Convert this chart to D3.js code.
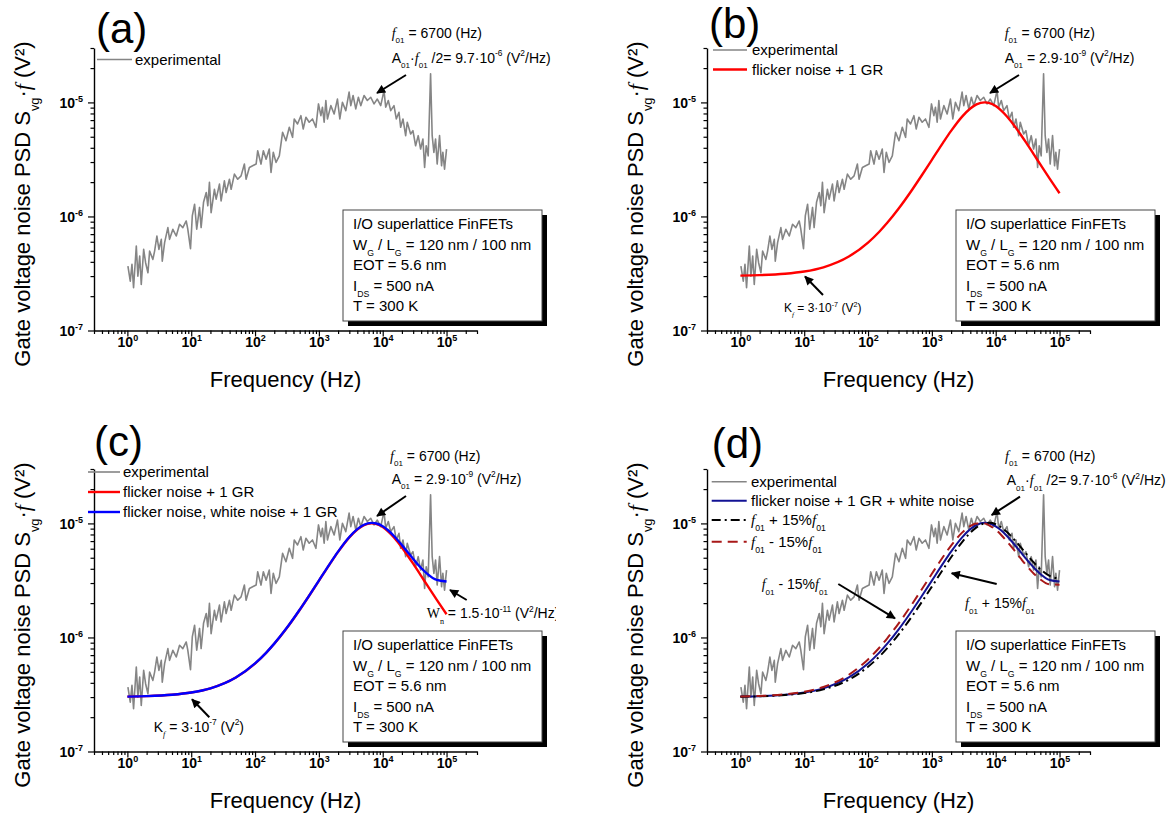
<!DOCTYPE html>
<html><head><meta charset="utf-8">
<script src="https://cdn.jsdelivr.net/npm/d3@7"></script>
<style>
body{margin:0;background:#fff;}
svg text{font-family:Arial,"Liberation Sans",sans-serif;fill:#000;}
</style></head><body>
<svg id="fig" width="1169" height="819"></svg>
<script>
// Measured gate voltage noise spectrum, S_vg·f (V²) versus frequency (Hz)
const expFreq = [1.02,1.11,1.18,1.25,1.38,1.46,1.56,1.65,1.80,1.93,2.10,2.23,2.51,2.67,2.90,3.12,3.40,3.52,3.83,4.31,4.58,5.16,5.83,6.57,7.39,8.35,8.85,9.75,10.4,11.3,12.2,13.5,14.3,15.6,17.2,18.2,19.3,20.5,23.1,24.6,27.7,29.4,33.1,35.2,39.7,42.2,47.5,53.5,60.4,68.1,72.3,81.5,91.7,104,110,124,135,149,167,178,193,213,240,270,305,344,387,411,463,523,568,627,705,794,898,986,1075,1138,1210,1286,1362,1540,1734,1953,2129,2338,2642,2975,3162,3435,3785,4157,4532,5104,5746,6494,7313,8234,9307,10480,11140,12230,13340,15020,16320,17980,19110,20760,22880,24230,27380,29740,32780,36000,39250,42640,45330,48000,51590,56230,59570,63340,67320,71320,77710,83550,87560,93070,100000];
const expPSD = [3.67e-7,2.71e-7,3.80e-7,2.37e-7,5.50e-7,3.00e-7,4.49e-7,2.53e-7,5.14e-7,3.93e-7,3.21e-7,4.97e-7,4.20e-7,4.97e-7,6.74e-7,5.14e-7,6.30e-7,4.06e-7,5.89e-7,7.99e-7,6.30e-7,7.72e-7,6.74e-7,8.54e-7,7.99e-7,9.13e-7,7.72e-7,5.22e-7,1.01e-6,1.28e-6,7.72e-7,1.20e-6,7.99e-7,1.33e-6,1.62e-6,1.24e-6,1.99e-6,1.08e-6,1.73e-6,1.42e-6,1.92e-6,1.37e-6,2.05e-6,1.62e-6,2.12e-6,1.73e-6,2.35e-6,2.12e-6,2.27e-6,2.88e-6,2.12e-6,2.69e-6,2.78e-6,2.88e-6,3.77e-6,2.88e-6,3.77e-6,3.18e-6,3.90e-6,2.43e-6,3.65e-6,2.98e-6,3.40e-6,5.47e-6,4.61e-6,6.05e-6,4.94e-6,7.16e-6,6.47e-6,7.65e-6,5.85e-6,7.41e-6,6.70e-6,7.16e-6,6.05e-6,9.70e-6,7.65e-6,9.07e-6,6.70e-6,1.04e-5,7.16e-6,9.37e-6,7.92e-6,1.07e-5,7.16e-6,1.00e-5,8.47e-6,1.23e-5,9.37e-6,1.15e-5,8.77e-6,1.11e-5,9.37e-6,1.15e-5,1.04e-5,1.11e-5,9.70e-6,1.07e-5,9.37e-6,1.27e-5,9.07e-6,1.04e-5,8.47e-6,9.37e-6,7.16e-6,8.20e-6,6.05e-6,7.16e-6,5.11e-6,6.70e-6,5.28e-6,5.65e-6,4.17e-6,5.11e-6,3.90e-6,4.78e-6,2.69e-6,4.17e-6,3.40e-6,1.78e-5,5.11e-6,3.65e-6,4.78e-6,2.88e-6,5.11e-6,2.78e-6,3.65e-6,2.60e-6,3.90e-6];

// Fitted model curves sampled at these frequencies (Hz)
const modelFreq = [1,2,5,10,20,50,100,150,200,300,500,700,1000,1500,2000,3000,4000,5000,6700,8000,10000,12000,15000,20000,25000,30000,40000,50000,70000,100000];
// flicker noise + 1 GR (Kf = 3e-7, A01 = 2.9e-9, f01 = 6700 Hz)
const fitFlickerGR = [3.029e-7,3.058e-7,3.145e-7,3.29e-7,3.58e-7,4.45e-7,5.899e-7,7.348e-7,8.795e-7,1.168e-6,1.742e-6,2.308e-6,3.137e-6,4.442e-6,5.625e-6,7.547e-6,8.852e-6,9.613e-6,1.0015e-5,9.865e-6,9.285e-6,8.570e-6,7.535e-6,6.152e-6,5.158e-6,4.433e-6,3.466e-6,2.858e-6,2.143e-6,1.596e-6];
// flicker noise + 1 GR + white noise (Wn = 1.5e-11)
const fitFlickerGRWhite = [3.029e-7,3.058e-7,3.145e-7,3.29e-7,3.58e-7,4.457e-7,5.914e-7,7.37e-7,8.825e-7,1.1725e-6,1.7495e-6,2.3185e-6,3.152e-6,4.4645e-6,5.655e-6,7.592e-6,8.912e-6,9.688e-6,1.0116e-5,9.985e-6,9.435e-6,8.75e-6,7.76e-6,6.452e-6,5.533e-6,4.883e-6,4.066e-6,3.608e-6,3.193e-6,3.096e-6];
// same model with f01 shifted by +15% and -15%
const fitPlus15 = [3.025e-7,3.050e-7,3.126e-7,3.252e-7,3.504e-7,4.26e-7,5.533e-7,6.798e-7,8.063e-7,1.0588e-6,1.5612e-6,2.0587e-6,2.7913e-6,3.9616e-6,5.0481e-6,6.9046e-6,8.294e-6,9.2344e-6,1.0007e-5,1.0114e-5,9.830e-6,9.301e-6,8.4105e-6,7.1088e-6,6.1361e-6,5.4248e-6,4.5037e-6,3.9706e-6,3.4601e-6,3.2862e-6];
const fitMinus15 = [3.034e-7,3.068e-7,3.170e-7,3.341e-7,3.681e-7,4.710e-7,6.42e-7,8.128e-7,9.834e-7,1.3235e-6,1.9975e-6,2.6592e-6,3.6191e-6,5.1001e-6,6.3941e-6,8.3434e-6,9.4833e-6,9.9921e-6,9.9723e-6,9.5843e-6,8.7913e-6,7.9933e-6,6.9616e-6,5.7091e-6,4.8757e-6,4.3041e-6,3.6067e-6,3.231e-6,2.9177e-6,2.9011e-6];

// Axis ticks and ranges
const xMajorTicks = [1,10,100,1000,10000,100000];
const yMajorTicks = [1e-7,1e-6,1e-5];
const xDomain = [0.3,3e5];
const yDomain = [1e-7,3e-5];

const infoLines = [
  ["I/O superlattice FinFETs"],
  ["W",["G","sub"]," / L",["G","sub"]," = 120 nm / 100 nm"],
  ["EOT = 5.6 nm"],
  ["I",["DS","sub"]," = 500 nA"],
  ["T = 300 K"]
];

const svg = d3.select("#fig");
const SERIF = "'Liberation Serif','Times New Roman',serif";
const frame = {left:94, right:477, top:48, bottom:330.5};
const x = d3.scaleLog().domain(xDomain).range([frame.left, frame.right]);
const y = d3.scaleLog().domain(yDomain).range([frame.bottom, frame.top]);

const defs = svg.append("defs");
defs.append("marker").attr("id","arrowHead").attr("viewBox","0 0 10 10")
  .attr("refX",9).attr("refY",5).attr("markerWidth",5.5).attr("markerHeight",4.5)
  .attr("orient","auto").attr("markerUnits","strokeWidth")
  .append("path").attr("d","M0,0L10,5L0,10z").attr("fill","#000");
defs.append("clipPath").attr("id","clipC").append("rect")
  .attr("x",-10).attr("y",-10).attr("width",566).attr("height",420);

// Text with sub/superscripts and italic serif parts (relative shifts keep one text chunk)
function rich(g, x0, y0, parts, size, opts = {}) {
  const t = g.append("text").attr("x", x0).attr("y", y0).attr("font-size", size);
  if (opts.anchor) t.attr("text-anchor", opts.anchor);
  if (opts.family) t.attr("font-family", opts.family);
  if (opts.transform) t.attr("transform", opts.transform);
  let cur = 0;
  parts.forEach(p => {
    const str = typeof p === "string" ? p : p[0];
    const kinds = typeof p === "string" ? [] : p[1].split(" ");
    const s = t.append("tspan").text(str);
    let target = 0, fs = size;
    if (kinds.includes("sub")) { target = size * 0.4; fs = size * 0.58; }
    if (kinds.includes("sup")) { target = -size * 0.45; fs = size * 0.6; }
    s.attr("dy", target - cur).attr("font-size", fs);
    cur = target;
    if (kinds.includes("it")) s.attr("font-style","italic").attr("font-family", SERIF);
    if (kinds.includes("serif")) s.attr("font-family", SERIF);
  });
  return t;
}

function arrow(g, x1, y1, x2, y2) {
  g.append("line").attr("x1",x1).attr("y1",y1).attr("x2",x2).attr("y2",y2)
    .attr("stroke","#000").attr("stroke-width",2).attr("marker-end","url(#arrowHead)");
}

const expData = d3.zip(expFreq, expPSD);
const lineExp = d3.line().x(d => x(d[0])).y(d => y(d[1]));
const lineFit = d3.line().curve(d3.curveMonotoneX).x(d => x(d[0])).y(d => y(d[1]));

const f01 = [["f","it"],["01","sub"]];

const styles = {
  exp:   {color:"#858585", width:1.6, dash:null},
  gr:    {color:"#ff0000", width:2.4, dash:null},
  grw:   {color:"#0000ff", width:2.4, dash:null},
  grwD:  {color:"#121294", width:2, dash:null},
  plus:  {color:"#000000", width:2, dash:"9,4,2,4"},
  minus: {color:"#a81818", width:2, dash:"10,6"}
};

const panels = [
  {
    label:"(a)", tx:0, ty:0, labelX:96, labelY:43,
    curves:[],
    legend:{x1:97, x2:132, tx:135, rows:[59.5], items:[["exp",["experimental"]]]},
    notes:[
      {x:391.7, y:37.5, parts:[...f01," = 6700 (Hz)"]},
      {x:391.7, y:62.5, parts:["A",["01","sub"],"·",...f01," /2= 9.7·10",["-6","sup"]," (V",["2","sup"],"/Hz)"]}
    ],
    arrows:[[406,75,377,93]]
  },
  {
    label:"(b)", tx:613, ty:0, labelX:96, labelY:38,
    curves:[["gr", fitFlickerGR]],
    legend:{x1:100, x2:134, tx:139, rows:[50,69.5], items:[["exp",["experimental"]],["gr",["flicker noise + 1 GR"]]]},
    notes:[
      {x:391.7, y:37.5, parts:[...f01," = 6700 (Hz)"]},
      {x:391.7, y:62.5, parts:["A",["01","sub"]," = 2.9·10",["-9","sup"]," (V",["2","sup"],"/Hz)"]},
      {x:171, y:312, size:12, family:SERIF, parts:["K",["f","sub it"]," = 3·10",["-7","sup"]," (V",["2","sup"],")"]}
    ],
    arrows:[[406,75,377,93],[210,295,192,276.5]]
  },
  {
    label:"(c)", tx:0, ty:421, labelX:94, labelY:35, clip:"clipC",
    curves:[["gr", fitFlickerGR],["grw", fitFlickerGRWhite]],
    legend:{x1:88, x2:120, tx:123, rows:[51,71,91], items:[["exp",["experimental"]],["gr",["flicker noise + 1 GR"]],["grw",["flicker noise, white noise + 1 GR"]]]},
    notes:[
      {x:390, y:39.5, parts:[...f01," = 6700 (Hz)"]},
      {x:391.7, y:62.5, parts:["A",["01","sub"]," = 2.9·10",["-9","sup"]," (V",["2","sup"],"/Hz)"]},
      {x:153.7, y:310.7, size:14, family:SERIF, parts:["K",["f","sub it"]," = 3·10",["-7","sup"]," (V",["2","sup"],")"]},
      {x:426.7, y:197.3, parts:[["W","serif"],["n","sub serif"]," = 1.5·10",["-11","sup"]," (V",["2","sup"],"/Hz)"]}
    ],
    arrows:[[406,75,377,95],[209.3,296.3,192,278.3],[466.7,179,450,169]]
  },
  {
    label:"(d)", tx:613, ty:421, labelX:98.7, labelY:37,
    curves:[["grwD", fitFlickerGRWhite],["plus", fitPlus15],["minus", fitMinus15]],
    legend:{x1:98.7, x2:133.7, tx:138, rows:[60.7,79.7,99,120.7], items:[
      ["exp",["experimental"]],
      ["grwD",["flicker noise + 1 GR + white noise"]],
      ["plus",[...f01," + 15%",...f01]],
      ["minus",[...f01," - 15%",...f01]]]},
    notes:[
      {x:392, y:39.7, parts:[...f01," = 6700 (Hz)"]},
      {x:393.7, y:64, parts:["A",["01","sub"],"·",...f01," /2= 9.7·10",["-6","sup"]," (V",["2","sup"],"/Hz)"]},
      {x:148.7, y:168.3, parts:[...f01," - 15%",...f01]},
      {x:352, y:187.3, parts:[...f01," + 15%",...f01]}
    ],
    arrows:[[407,75.7,378.7,94],[225.3,163,282,197.3],[383.7,163,338.7,152.3]]
  }
];

panels.forEach(P => {
  const g = svg.append("g").attr("transform", `translate(${P.tx},${P.ty})`);
  if (P.clip) g.attr("clip-path", `url(#${P.clip})`);

  // axes: major ticks with labels, minor ticks without
  const xMinor = x.ticks().filter(v => !xMajorTicks.includes(v));
  const yMinor = y.ticks().filter(v => !yMajorTicks.some(m => Math.abs(m - v) / m < 1e-6));

  const gx = g.append("g").attr("transform", `translate(0,${frame.bottom})`)
    .call(d3.axisBottom(x).tickValues(xMajorTicks).tickSize(6).tickSizeOuter(0));
  g.append("g").attr("transform", `translate(0,${frame.bottom})`)
    .call(d3.axisBottom(x).tickValues(xMinor).tickSize(3.5).tickFormat(""))
    .call(s => s.select(".domain").remove());
  const gy = g.append("g").attr("transform", `translate(${frame.left},0)`)
    .call(d3.axisLeft(y).tickValues(yMajorTicks).tickSize(6).tickSizeOuter(0));
  g.append("g").attr("transform", `translate(${frame.left},0)`)
    .call(d3.axisLeft(y).tickValues(yMinor).tickSize(3.5).tickFormat(""))
    .call(s => s.select(".domain").remove());

  g.selectAll(".domain").attr("stroke-width",1.4).attr("stroke","#000");
  g.selectAll(".tick line").attr("stroke-width",1.2).attr("stroke","#000");

  gx.selectAll(".tick text").each(function(d) {
    const t = d3.select(this).text(null).attr("y",16).attr("dy",null)
      .attr("font-size",14).attr("font-weight","bold").attr("font-family","Arial,'Liberation Sans',sans-serif");
    t.append("tspan").text("10");
    t.append("tspan").attr("dy",-6).attr("font-size",9).text(Math.round(Math.log10(d)));
  });
  gy.selectAll(".tick text").each(function(d) {
    const t = d3.select(this).text(null).attr("x",-11).attr("dy","0.36em")
      .attr("font-size",14).attr("font-weight","bold").attr("font-family","Arial,'Liberation Sans',sans-serif");
    t.append("tspan").text("10");
    t.append("tspan").attr("dy",-6).attr("font-size",9).text(Math.round(Math.log10(d)));
  });

  // axis titles
  g.append("text").attr("x",(frame.left+frame.right)/2).attr("y",387)
    .attr("text-anchor","middle").attr("font-size",22).text("Frequency (Hz)");
  rich(g, 0, 0, ["Gate voltage noise PSD S",["vg","sub"],"·",["f","it"]," (V²)"], 22,
    {anchor:"middle", transform:"translate(30,204) rotate(-90)"});

  // panel label
  g.append("text").attr("x",P.labelX).attr("y",P.labelY).attr("font-size",42).text(P.label);

  // data and fitted curves
  g.append("path").datum(expData).attr("d", lineExp).attr("fill","none")
    .attr("stroke", styles.exp.color).attr("stroke-width", styles.exp.width).attr("stroke-linejoin","round");
  P.curves.forEach(([key, vals]) => {
    const st = styles[key];
    g.append("path").datum(d3.zip(modelFreq, vals)).attr("d", lineFit).attr("fill","none")
      .attr("stroke", st.color).attr("stroke-width", st.width)
      .attr("stroke-dasharray", st.dash);
  });

  // legend
  const L = P.legend;
  L.items.forEach(([key, parts], i) => {
    const st = styles[key], ry = L.rows[i];
    g.append("line").attr("x1",L.x1).attr("x2",L.x2).attr("y1",ry).attr("y2",ry)
      .attr("stroke",st.color).attr("stroke-width",st.width).attr("stroke-dasharray",st.dash);
    rich(g, L.tx, ry + 5, parts, 15);
  });

  // device info box with drop shadow
  const bx = 343, by = 210, bw = 199, bh = 111;
  g.append("rect").attr("x",bx+5).attr("y",by+5).attr("width",bw).attr("height",bh).attr("fill","#000");
  g.append("rect").attr("x",bx).attr("y",by).attr("width",bw).attr("height",bh)
    .attr("fill","#fff").attr("stroke","#444").attr("stroke-width",1);
  infoLines.forEach((parts, i) => rich(g, bx+10, by+19+i*20.5, parts, 15));

  // annotations
  P.notes.forEach(n => rich(g, n.x, n.y, n.parts, n.size || 14, {family:n.family}));
  P.arrows.forEach(a => arrow(g, ...a));
});
</script>
</body></html>
